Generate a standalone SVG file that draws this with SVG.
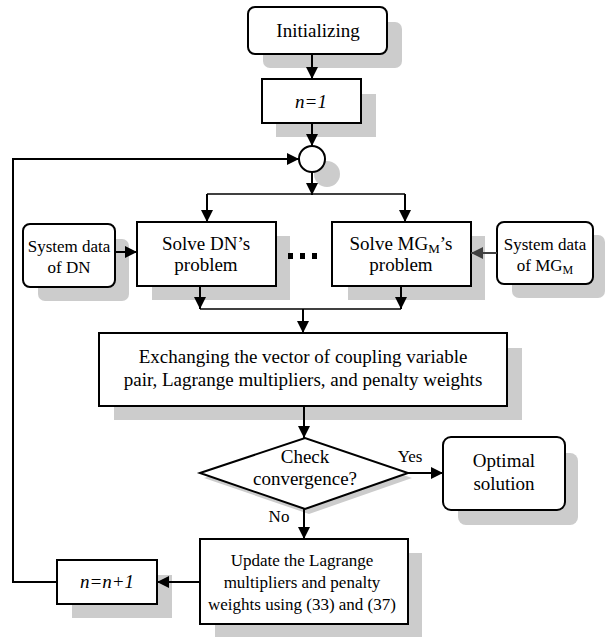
<svg xmlns="http://www.w3.org/2000/svg" width="605" height="637" viewBox="0 0 605 637">
<style>
.sh{fill:#cccccc;stroke:none}
.bx{fill:#ffffff;stroke:#000000;stroke-width:2}
.t{font-family:'Liberation Serif','DejaVu Serif',serif;font-size:19px;fill:#000;text-anchor:middle}
.ts{font-family:'Liberation Serif','DejaVu Serif',serif;font-size:17px;fill:#000;text-anchor:middle}
.it{font-style:italic}
.c{fill:none;stroke:#000;stroke-width:2}
.thin{fill:none;stroke:#000;stroke-width:1.3}
</style>
<defs>
<marker id="ah" markerUnits="userSpaceOnUse" markerWidth="12" markerHeight="12" viewBox="0 0 12 12" refX="12" refY="6" orient="auto">
<path d="M0,0 L12,6 L0,12 Z" fill="#000"/>
</marker>
<marker id="ahg" markerUnits="userSpaceOnUse" markerWidth="12" markerHeight="12" viewBox="0 0 12 12" refX="12" refY="6" orient="auto">
<path d="M0,0 L12,6 L0,12 Z" fill="#404040"/>
</marker>
</defs>

<g id="init">
<rect class="sh" x="263" y="22" width="139" height="46" rx="7"/>
<rect class="bx" x="248" y="7" width="139" height="47" rx="7"/>
<text class="t" x="318" y="37" font-family="Liberation Serif">Initializing</text>
</g>

<g id="n1">
<rect class="sh" x="276" y="94" width="100" height="43"/>
<rect class="bx" x="262" y="79" width="99" height="44"/>
<text class="t it" x="311" y="108" font-family="Liberation Serif">n=1</text>
</g>

<g id="junction">
<circle class="sh" cx="327" cy="174" r="13"/>
<circle class="bx" cx="312" cy="159" r="13"/>
</g>

<g id="sysdn">
<rect class="sh" x="38" y="239" width="91" height="62" rx="7"/>
<rect class="bx" x="23" y="224" width="92" height="63" rx="7"/>
<text class="ts" x="69" y="252" font-family="Liberation Serif">System data</text>
<text class="ts" x="69" y="273" font-family="Liberation Serif">of DN</text>
</g>

<g id="solvedn">
<rect class="sh" x="152" y="236" width="138" height="64"/>
<rect class="bx" x="137" y="222" width="139" height="64"/>
<text class="t" x="206" y="250" font-family="Liberation Serif">Solve DN’s</text>
<text class="t" x="206" y="271" font-family="Liberation Serif">problem</text>
</g>

<g id="dots">
<rect x="288" y="253" width="5" height="6" fill="#000"/>
<rect x="300" y="253" width="5" height="6" fill="#000"/>
<rect x="312" y="253" width="5" height="6" fill="#000"/>
</g>

<g id="solvemg">
<rect class="sh" x="348" y="236" width="137" height="64"/>
<rect class="bx" x="332" y="222" width="139" height="64"/>
<text class="t" x="401" y="250" font-family="Liberation Serif">Solve MG<tspan font-size="13" dy="3">M</tspan><tspan dy="-3">’s</tspan></text>
<text class="t" x="401" y="271" font-family="Liberation Serif">problem</text>
</g>

<g id="sysmg">
<rect class="sh" x="512" y="235" width="93" height="63" rx="7"/>
<rect class="bx" x="497" y="222" width="96" height="62" rx="7"/>
<text class="ts" x="545" y="250" font-family="Liberation Serif">System data</text>
<text class="ts" x="545" y="271" font-family="Liberation Serif">of MG<tspan font-size="12" dy="3">M</tspan></text>
</g>

<g id="exchange">
<rect class="sh" x="114" y="348" width="408" height="72"/>
<rect class="bx" x="99" y="333" width="408" height="73"/>
<text class="t" x="303" y="363" font-family="Liberation Serif">Exchanging the vector of coupling variable</text>
<text class="t" x="303" y="386" font-family="Liberation Serif">pair, Lagrange multipliers, and penalty weights</text>
</g>

<g id="check">
<polygon class="sh" points="204,478 309,443 412,478 309,514"/>
<polygon class="bx" points="200,473 305,438 408,473 305,509"/>
<text class="t" x="305" y="463" font-family="Liberation Serif">Check</text>
<text class="t" x="305" y="485" font-family="Liberation Serif">convergence?</text>
</g>

<g id="optimal">
<rect class="sh" x="458" y="453" width="120" height="72" rx="8"/>
<rect class="bx" x="443" y="437" width="122" height="73" rx="8"/>
<text class="t" x="504" y="467" font-family="Liberation Serif">Optimal</text>
<text class="t" x="504" y="490" font-family="Liberation Serif">solution</text>
</g>

<g id="update">
<rect class="sh" x="215" y="553" width="207" height="84"/>
<rect class="bx" x="200" y="539" width="208" height="85"/>
<text class="ts" x="302" y="566" font-family="Liberation Serif">Update the Lagrange</text>
<text class="ts" x="302" y="588" font-family="Liberation Serif">multipliers and penalty</text>
<text class="ts" x="302" y="610" font-family="Liberation Serif">weights using (33) and (37)</text>
</g>

<g id="nn1">
<rect class="sh" x="72" y="575" width="100" height="43"/>
<rect class="bx" x="57" y="560" width="100" height="44"/>
<text class="t it" x="107" y="588" font-family="Liberation Serif">n=n+1</text>
</g>

<g id="connectors">
<path class="c" d="M312,54 V79" marker-end="url(#ah)"/>
<path class="c" d="M312,123 V146" marker-end="url(#ah)"/>
<path class="c" d="M312,172 V195" marker-end="url(#ah)"/>
<path class="thin" d="M207,194 H405"/>
<path class="c" d="M207,194 V222" marker-end="url(#ah)"/>
<path class="c" d="M405,194 V222" marker-end="url(#ah)"/>
<path class="c" d="M115,252 H137" marker-end="url(#ah)"/>
<path d="M497,253 H471" fill="none" stroke="#404040" stroke-width="2" marker-end="url(#ahg)"/>
<path class="c" d="M200,286 V309" marker-end="url(#ah)"/>
<path class="c" d="M401,286 V309" marker-end="url(#ah)"/>
<path class="thin" d="M200,309 H401"/>
<path class="c" d="M303,309 V333" marker-end="url(#ah)"/>
<path class="c" d="M304,406 V438" marker-end="url(#ah)"/>
<path class="c" d="M408,473 H443" marker-end="url(#ah)"/>
<path class="c" d="M304,509 V539" marker-end="url(#ah)"/>
<path class="c" d="M200,582 H157" marker-end="url(#ah)"/>
<path class="c" d="M57,582 H13 V159 H299" marker-end="url(#ah)"/>
<text class="ts" x="410" y="462" font-family="Liberation Serif">Yes</text>
<text class="ts" x="279" y="522" font-family="Liberation Serif">No</text>
</g>
</svg>
